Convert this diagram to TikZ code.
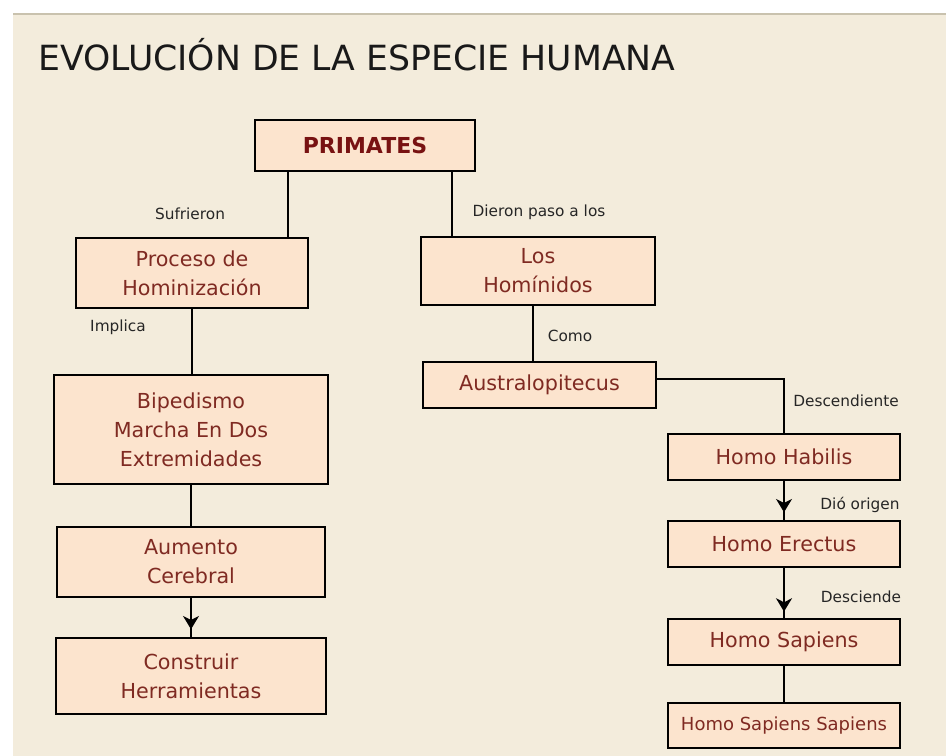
\documentclass[tikz,border=0pt]{standalone}
\usepackage{fontspec}
\setmainfont{DejaVu Sans}
\usepackage{xcolor}
\usepackage{tikz}
\usetikzlibrary{calc, shadows, arrows.meta, decorations.markings}
\definecolor{crema}{HTML}{F3ECDC}
\definecolor{borde}{HTML}{C9C2AE}
\definecolor{durazno}{HTML}{FCE4CE}
\definecolor{ladrillo}{HTML}{7F2A22}
\definecolor{vino}{HTML}{781212}
\tikzstyle{caja}  = [draw=black, line width=1.3pt, fill=durazno, align=center,
                     text=ladrillo, inner sep=0pt,
                     font=\fontsize{15.5pt}{21.75pt}\selectfont,
                     drop shadow={shadow xshift=0.9pt, shadow yshift=-0.9pt, fill=black, opacity=0.7}]
\tikzstyle{linea} = [line width=1.1pt]

\begin{document}
\begin{tikzpicture}[
    x=0.75pt, y=-0.75pt,
    tam/.style 2 args={minimum width=#1, minimum height=#2},
    etiqueta/.style={font=\fontsize{11.5pt}{13pt}\selectfont, text=black!85, inner sep=0pt},
    flecha/.style={linea, postaction={decorate},
      decoration={markings, mark=at position #1 with {\arrow{Stealth[length=10pt,width=12pt,inset=3pt]}}}},
    flecha/.default=0.8,
  ]
  % fondo
  \useasboundingbox (0,0) rectangle (946,756);
  \fill[white] (0,0) rectangle (946,756);
  \fill[crema] (13,14) rectangle (946,756);
  \draw[borde, line width=1pt] (13,14) -- (946,14);

  \node[anchor=base west, inner sep=0pt, text=black!90,
        font=\fontsize{26pt}{30pt}\selectfont] (titulo) at (38,71) {EVOLUCIÓN DE LA ESPECIE HUMANA};

  % cajas
  \node[caja, tam={165pt}{38.25pt}, text=vino, font=\fontsize{16.5pt}{20pt}\selectfont\bfseries]
        (prim) at (365,145.5) {PRIMATES};
  \node[caja, tam={174pt}{52.5pt}]     (proc)   at (192,273)   {Proceso de\\Hominización};
  \node[caja, tam={175.5pt}{51pt}]     (homin)  at (538,271)   {Los\\Homínidos};
  \node[caja, tam={205.5pt}{81.75pt}]  (biped)  at (191,429.5) {Bipedismo\\Marcha En Dos\\Extremidades};
  \node[caja, tam={201pt}{52.5pt}]     (aum)    at (191,562)   {Aumento\\Cerebral};
  \node[caja, tam={202.5pt}{57pt}]     (constr) at (191,676)   {Construir\\Herramientas};
  \node[caja, tam={174.75pt}{34.5pt}]  (austr)  at (539.5,385) {Australopitecus};
  \node[caja, tam={174pt}{34.5pt}]     (habil)  at (784,457)   {Homo Habilis};
  \node[caja, tam={174pt}{34.5pt}]     (erect)  at (784,544)   {Homo Erectus};
  \node[caja, tam={174pt}{34.5pt}]     (sapi)   at (784,642)   {Homo Sapiens};
  \node[caja, tam={174pt}{33.75pt}, font=\fontsize{13.5pt}{16pt}\selectfont]
        (sapsap) at (784,725.5) {Homo Sapiens Sapiens};

  % conectores
  \coordinate (pi) at ([xshift=-57.75pt]prim.south);
  \coordinate (pd) at ([xshift=65.25pt]prim.south);
  \coordinate (ae) at ([yshift=4.5pt]austr.east);
  \draw[linea] (pi) -- (pi |- proc.north);
  \draw[linea] (pd) -- (pd |- homin.north);
  \draw[linea] (proc.south) -- (proc.south |- biped.north);
  \draw[linea] (biped.south) -- (biped.south |- aum.north);
  \draw[flecha] (aum.south) -- (aum.south |- constr.north);
  \draw[linea] ([xshift=-3.75pt]homin.south) -- ([xshift=-3.75pt]homin.south |- austr.north);
  \draw[linea] (ae) -| (habil.north);
  \draw[flecha] (habil.south) -- (erect.north);
  \draw[flecha=0.87] (erect.south) -- (sapi.north);
  \draw[linea] (sapi.south) -- (sapsap.north);

  % etiquetas
  \node[etiqueta] (l1) at (190,214) {Sufrieron};
  \node[etiqueta] (l2) at (539,212) {Dieron paso a los};
  \node[etiqueta] (l3) at (118,327) {Implica};
  \node[etiqueta] (l4) at (570,336) {Como};
  \node[etiqueta] (l5) at (846,401) {Descendiente};
  \node[etiqueta] (l6) at (860,505) {Dió origen};
  \node[etiqueta] (l7) at (861,597) {Desciende};
\end{tikzpicture}
\end{document}
